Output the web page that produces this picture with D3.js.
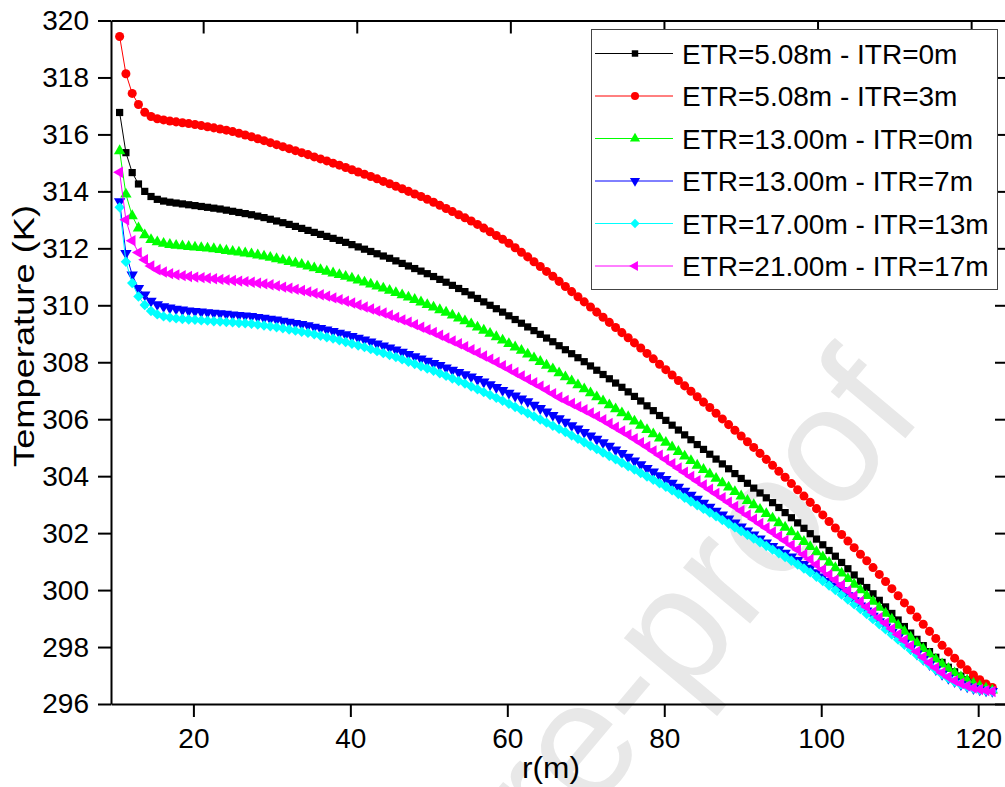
<!DOCTYPE html>
<html lang="en">
<head>
<meta charset="UTF-8" />
<title>Temperature vs r</title>
<style>
  body { margin: 0; background: #fff; }
  text { font-family: "Liberation Sans", Arial, sans-serif; }
</style>
</head>
<body>
<svg id="chart" width="1005" height="787"></svg>
<script src="https://d3js.org/d3.v7.min.js"></script>
<script>
// radial positions (m)
const rValues = [
  10.6, 11.4, 12.2, 13.0, 13.8, 14.6, 15.4, 16.2, 17.0, 17.8,
  18.6, 19.4, 20.2, 21.0, 21.8, 22.6, 23.4, 24.2, 25.0, 25.8,
  26.6, 27.4, 28.2, 29.0, 29.8, 30.6, 31.4, 32.2, 33.0, 33.8,
  34.6, 35.4, 36.2, 37.0, 37.8, 38.6, 39.4, 40.2, 41.0, 41.8,
  42.6, 43.4, 44.2, 45.0, 45.8, 46.6, 47.4, 48.2, 49.0, 49.8,
  50.6, 51.4, 52.2, 53.0, 53.8, 54.6, 55.4, 56.2, 57.0, 57.8,
  58.6, 59.4, 60.2, 61.0, 61.8, 62.6, 63.4, 64.2, 65.0, 65.8,
  66.6, 67.4, 68.2, 69.0, 69.8, 70.6, 71.4, 72.2, 73.0, 73.8,
  74.6, 75.4, 76.2, 77.0, 77.8, 78.6, 79.4, 80.2, 81.0, 81.8,
  82.6, 83.4, 84.2, 85.0, 85.8, 86.6, 87.4, 88.2, 89.0, 89.8,
  90.6, 91.4, 92.2, 93.0, 93.8, 94.6, 95.4, 96.2, 97.0, 97.8,
  98.6, 99.4, 100.2, 101.0, 101.8, 102.6, 103.4, 104.2, 105.0, 105.8,
  106.6, 107.4, 108.2, 109.0, 109.8, 110.6, 111.4, 112.2, 113.0, 113.8,
  114.6, 115.4, 116.2, 117.0, 117.8, 118.6, 119.4, 120.2, 121.0, 121.8
];

// temperatures (K)
const tEtr508Itr0 = [
  316.77, 315.36, 314.66, 314.26, 314.00, 313.82, 313.72, 313.66, 313.62, 313.59,
  313.56, 313.53, 313.50, 313.47, 313.44, 313.41, 313.38, 313.34, 313.30, 313.26,
  313.22, 313.18, 313.13, 313.08, 313.02, 312.96, 312.90, 312.84, 312.77, 312.70,
  312.63, 312.56, 312.49, 312.42, 312.35, 312.28, 312.21, 312.13, 312.05, 311.97,
  311.89, 311.81, 311.73, 311.65, 311.56, 311.47, 311.38, 311.29, 311.20, 311.11,
  311.01, 310.91, 310.81, 310.70, 310.59, 310.48, 310.36, 310.24, 310.12, 310.00,
  309.88, 309.76, 309.63, 309.50, 309.37, 309.24, 309.11, 308.98, 308.85, 308.72,
  308.58, 308.44, 308.30, 308.16, 308.02, 307.87, 307.72, 307.57, 307.42, 307.27,
  307.12, 306.96, 306.80, 306.64, 306.47, 306.30, 306.13, 305.96, 305.79, 305.62,
  305.45, 305.28, 305.11, 304.94, 304.77, 304.60, 304.43, 304.26, 304.09, 303.92,
  303.75, 303.58, 303.41, 303.24, 303.07, 302.90, 302.72, 302.54, 302.36, 302.17,
  301.98, 301.79, 301.59, 301.39, 301.19, 300.97, 300.75, 300.53, 300.31, 300.09,
  299.87, 299.64, 299.41, 299.18, 298.95, 298.72, 298.49, 298.27, 298.05, 297.84,
  297.64, 297.46, 297.29, 297.13, 296.98, 296.85, 296.74, 296.64, 296.55, 296.48
];
const tEtr508Itr3 = [
  319.44, 318.13, 317.44, 317.05, 316.78, 316.63, 316.55, 316.51, 316.47, 316.44,
  316.41, 316.38, 316.35, 316.31, 316.27, 316.23, 316.19, 316.15, 316.10, 316.04,
  315.98, 315.92, 315.85, 315.78, 315.71, 315.64, 315.57, 315.50, 315.43, 315.36,
  315.29, 315.21, 315.14, 315.07, 314.99, 314.92, 314.84, 314.76, 314.68, 314.60,
  314.52, 314.44, 314.35, 314.27, 314.18, 314.09, 314.00, 313.91, 313.82, 313.72,
  313.62, 313.51, 313.40, 313.29, 313.18, 313.07, 312.96, 312.84, 312.71, 312.58,
  312.45, 312.32, 312.18, 312.02, 311.86, 311.70, 311.53, 311.36, 311.19, 311.02,
  310.84, 310.66, 310.48, 310.30, 310.12, 309.94, 309.76, 309.58, 309.40, 309.22,
  309.04, 308.86, 308.68, 308.50, 308.31, 308.12, 307.93, 307.74, 307.55, 307.36,
  307.17, 306.98, 306.79, 306.60, 306.41, 306.21, 306.01, 305.81, 305.61, 305.41,
  305.21, 305.01, 304.80, 304.59, 304.38, 304.17, 303.96, 303.74, 303.52, 303.30,
  303.08, 302.86, 302.64, 302.41, 302.18, 301.95, 301.72, 301.49, 301.26, 301.03,
  300.79, 300.55, 300.30, 300.05, 299.80, 299.55, 299.30, 299.05, 298.80, 298.55,
  298.30, 298.06, 297.83, 297.61, 297.40, 297.20, 297.02, 296.85, 296.70, 296.58
];
const tEtr13Itr0 = [
  315.42, 313.90, 313.14, 312.71, 312.47, 312.30, 312.22, 312.17, 312.13, 312.10,
  312.08, 312.06, 312.04, 312.02, 312.00, 311.98, 311.95, 311.92, 311.89, 311.86,
  311.83, 311.80, 311.76, 311.72, 311.68, 311.63, 311.58, 311.53, 311.48, 311.43,
  311.37, 311.31, 311.25, 311.19, 311.13, 311.07, 311.01, 310.95, 310.88, 310.81,
  310.74, 310.67, 310.60, 310.52, 310.44, 310.36, 310.28, 310.20, 310.11, 310.02,
  309.93, 309.84, 309.75, 309.65, 309.55, 309.45, 309.34, 309.23, 309.12, 309.01,
  308.89, 308.77, 308.65, 308.53, 308.41, 308.28, 308.15, 308.02, 307.89, 307.76,
  307.62, 307.48, 307.34, 307.20, 307.06, 306.92, 306.78, 306.64, 306.50, 306.36,
  306.22, 306.08, 305.93, 305.78, 305.63, 305.48, 305.33, 305.18, 305.02, 304.86,
  304.70, 304.54, 304.38, 304.23, 304.07, 303.92, 303.76, 303.61, 303.45, 303.30,
  303.14, 302.99, 302.83, 302.68, 302.52, 302.36, 302.20, 302.04, 301.87, 301.70,
  301.52, 301.34, 301.16, 300.97, 300.78, 300.59, 300.40, 300.20, 300.00, 299.80,
  299.60, 299.39, 299.18, 298.97, 298.76, 298.55, 298.34, 298.14, 297.94, 297.75,
  297.57, 297.40, 297.24, 297.09, 296.95, 296.83, 296.72, 296.63, 296.55, 296.48
];
const tEtr13Itr7 = [
  313.64, 311.83, 311.07, 310.60, 310.37, 310.15, 310.03, 309.96, 309.91, 309.87,
  309.84, 309.81, 309.79, 309.77, 309.75, 309.73, 309.71, 309.69, 309.67, 309.65,
  309.63, 309.61, 309.58, 309.55, 309.52, 309.49, 309.45, 309.41, 309.37, 309.33,
  309.29, 309.24, 309.19, 309.14, 309.09, 309.03, 308.97, 308.91, 308.85, 308.79,
  308.72, 308.65, 308.58, 308.51, 308.44, 308.36, 308.28, 308.20, 308.12, 308.04,
  307.96, 307.89, 307.81, 307.73, 307.65, 307.57, 307.49, 307.40, 307.31, 307.22,
  307.12, 307.02, 306.92, 306.82, 306.72, 306.62, 306.50, 306.38, 306.26, 306.14,
  306.02, 305.90, 305.78, 305.66, 305.54, 305.42, 305.30, 305.18, 305.06, 304.93,
  304.80, 304.67, 304.54, 304.41, 304.28, 304.15, 304.02, 303.89, 303.76, 303.62,
  303.48, 303.34, 303.20, 303.06, 302.92, 302.78, 302.64, 302.50, 302.36, 302.22,
  302.08, 301.94, 301.80, 301.66, 301.54, 301.42, 301.30, 301.17, 301.05, 300.91,
  300.77, 300.62, 300.47, 300.31, 300.15, 299.98, 299.81, 299.63, 299.45, 299.27,
  299.09, 298.90, 298.71, 298.52, 298.33, 298.14, 297.95, 297.76, 297.57, 297.39,
  297.21, 297.05, 296.91, 296.79, 296.69, 296.61, 296.55, 296.50, 296.47, 296.45
];
const tEtr17Itr13 = [
  313.44, 311.53, 310.78, 310.31, 310.01, 309.80, 309.68, 309.61, 309.57, 309.54,
  309.52, 309.50, 309.49, 309.47, 309.46, 309.44, 309.43, 309.41, 309.40, 309.38,
  309.37, 309.35, 309.32, 309.29, 309.26, 309.23, 309.19, 309.15, 309.11, 309.07,
  309.03, 308.98, 308.93, 308.88, 308.83, 308.77, 308.71, 308.65, 308.59, 308.53,
  308.46, 308.39, 308.32, 308.25, 308.18, 308.10, 308.02, 307.94, 307.86, 307.78,
  307.70, 307.61, 307.52, 307.43, 307.34, 307.25, 307.15, 307.05, 306.95, 306.85,
  306.75, 306.65, 306.54, 306.43, 306.32, 306.21, 306.10, 305.99, 305.88, 305.77,
  305.66, 305.55, 305.43, 305.31, 305.19, 305.07, 304.95, 304.83, 304.71, 304.59,
  304.47, 304.35, 304.23, 304.11, 303.99, 303.87, 303.75, 303.63, 303.50, 303.37,
  303.24, 303.11, 302.98, 302.85, 302.72, 302.59, 302.46, 302.33, 302.20, 302.07,
  301.94, 301.81, 301.68, 301.55, 301.42, 301.29, 301.16, 301.03, 300.90, 300.76,
  300.62, 300.47, 300.32, 300.16, 300.00, 299.84, 299.67, 299.50, 299.33, 299.16,
  298.98, 298.80, 298.62, 298.44, 298.26, 298.08, 297.90, 297.72, 297.54, 297.37,
  297.20, 297.04, 296.90, 296.78, 296.68, 296.60, 296.54, 296.49, 296.46, 296.44
];
const tEtr21Itr17 = [
  314.67, 313.00, 312.27, 311.85, 311.60, 311.38, 311.25, 311.17, 311.11, 311.07,
  311.04, 311.01, 310.99, 310.97, 310.95, 310.93, 310.91, 310.89, 310.87, 310.85,
  310.83, 310.81, 310.78, 310.75, 310.72, 310.68, 310.64, 310.60, 310.56, 310.52,
  310.47, 310.42, 310.37, 310.32, 310.26, 310.20, 310.14, 310.08, 310.01, 309.94,
  309.87, 309.80, 309.73, 309.65, 309.57, 309.49, 309.41, 309.32, 309.23, 309.14,
  309.05, 308.95, 308.85, 308.75, 308.65, 308.55, 308.44, 308.33, 308.22, 308.11,
  308.00, 307.88, 307.76, 307.64, 307.52, 307.40, 307.28, 307.16, 307.03, 306.90,
  306.77, 306.66, 306.55, 306.44, 306.33, 306.22, 306.10, 305.98, 305.85, 305.72,
  305.59, 305.46, 305.32, 305.18, 305.04, 304.89, 304.74, 304.59, 304.44, 304.29,
  304.14, 303.99, 303.84, 303.69, 303.54, 303.39, 303.24, 303.09, 302.94, 302.79,
  302.64, 302.49, 302.34, 302.19, 302.04, 301.89, 301.74, 301.58, 301.42, 301.25,
  301.08, 300.90, 300.72, 300.54, 300.36, 300.17, 299.98, 299.79, 299.60, 299.41,
  299.22, 299.03, 298.84, 298.64, 298.44, 298.24, 298.04, 297.84, 297.64, 297.45,
  297.27, 297.10, 296.95, 296.82, 296.72, 296.63, 296.56, 296.51, 296.47, 296.44
];

const seriesNames = [
  'ETR=5.08m - ITR=0m',
  'ETR=5.08m - ITR=3m',
  'ETR=13.00m - ITR=0m',
  'ETR=13.00m - ITR=7m',
  'ETR=17.00m - ITR=13m',
  'ETR=21.00m - ITR=17m'
];
const xTicks = [20, 40, 60, 80, 100, 120];
const yTicks = [296, 298, 300, 302, 304, 306, 308, 310, 312, 314, 316, 318, 320];

// styling
const colors = ['#000000', '#ff0000', '#00ff00', '#0000ff', '#00ffff', '#ff00ff'];
const shapes = [
  { type: d3.symbolSquare, size: 52, rot: 0 },
  { type: d3.symbolCircle, size: 64, rot: 0 },
  { type: d3.symbolTriangle, size: 56, rot: 0 },
  { type: d3.symbolTriangle, size: 56, rot: 180 },
  { type: d3.symbolSquare, size: 54, rot: 45 },
  { type: d3.symbolTriangle, size: 56, rot: -90 }
];
const allSeries = [tEtr508Itr0, tEtr508Itr3, tEtr13Itr0, tEtr13Itr7, tEtr17Itr13, tEtr21Itr17];

const svg = d3.select('#chart');
const plotLeft = 111, plotRight = 1008, plotTop = 20.5, plotBottom = 704;

const x = d3.scaleLinear().domain([9.5, 123.8]).range([plotLeft, plotRight]);
// the top axis of the original is offset from the bottom one
const xTop = d3.scaleLinear().domain([8, 124.8]).range([plotLeft, plotRight]);
const y = d3.scaleLinear().domain([296, 320]).range([plotBottom, plotTop]);

// watermark
svg.append('text')
  .attr('transform', 'translate(106,1391) rotate(-50)')
  .attr('font-size', 165)
  .attr('fill', '#e8e8e8')
  .text('Journal Pre-proof');

// series
const line = d3.line().x((d) => x(d[0])).y((d) => y(d[1]));
allSeries.forEach((vals, k) => {
  const pts = rValues.map((r, i) => [r, vals[i]]);
  const g = svg.append('g');
  g.append('path')
    .attr('d', line(pts))
    .attr('fill', 'none')
    .attr('stroke', colors[k])
    .attr('stroke-width', 1);
  const sym = d3.symbol().type(shapes[k].type).size(shapes[k].size);
  g.selectAll('path.m')
    .data(pts)
    .join('path')
    .attr('class', 'm')
    .attr('d', sym)
    .attr('transform', (d) => `translate(${x(d[0])},${y(d[1])}) rotate(${shapes[k].rot})`)
    .attr('fill', colors[k]);
});

// axes
function styleAxis(g) {
  g.selectAll('.domain').attr('stroke-width', 2);
  g.selectAll('.tick line').attr('stroke-width', 2);
  g.selectAll('.tick text').attr('font-size', 28).attr('fill', '#000')
    .attr('font-family', '"Liberation Sans", Arial, sans-serif');
}

svg.append('g')
  .attr('transform', `translate(0,${plotBottom})`)
  .call(d3.axisBottom(x).tickValues(xTicks).tickSize(13).tickSizeOuter(0).tickPadding(11))
  .call(styleAxis);

svg.append('g')
  .attr('transform', `translate(0,${plotTop})`)
  .call(d3.axisTop(xTop).tickValues(xTicks).tickSize(-13).tickSizeOuter(0).tickFormat(''))
  .call(styleAxis);

svg.append('g')
  .attr('transform', `translate(${plotLeft},0)`)
  .call(d3.axisLeft(y).tickValues(yTicks).tickSize(13).tickSizeOuter(0).tickPadding(9))
  .call(styleAxis);

svg.append('g')
  .attr('transform', `translate(${plotRight},0)`)
  .call(d3.axisRight(y).tickValues(yTicks).tickSize(-13).tickSizeOuter(0).tickFormat(''))
  .call(styleAxis);

// axis titles
svg.append('text')
  .attr('x', 551).attr('y', 778)
  .attr('text-anchor', 'middle')
  .attr('font-size', 30)
  .attr('textLength', 58)
  .attr('lengthAdjust', 'spacingAndGlyphs')
  .text('r(m)');

svg.append('text')
  .attr('transform', 'translate(34,336) rotate(-90)')
  .attr('text-anchor', 'middle')
  .attr('font-size', 29)
  .attr('textLength', 262)
  .attr('lengthAdjust', 'spacingAndGlyphs')
  .text('Temperature (K)');

// legend
const legend = svg.append('g');
legend.append('rect')
  .attr('x', 591.5).attr('y', 29.5)
  .attr('width', 406).attr('height', 260)
  .attr('fill', '#fff')
  .attr('stroke', '#444')
  .attr('stroke-width', 1);

seriesNames.forEach((name, k) => {
  const cy = 53.5 + k * 42.5;
  legend.append('line')
    .attr('x1', 595).attr('x2', 673)
    .attr('y1', cy).attr('y2', cy)
    .attr('stroke', colors[k]).attr('stroke-width', 1);
  legend.append('path')
    .attr('d', d3.symbol().type(shapes[k].type).size(shapes[k].size * 0.8)())
    .attr('transform', `translate(635,${cy}) rotate(${shapes[k].rot})`)
    .attr('fill', colors[k]);
  legend.append('text')
    .attr('x', 682).attr('y', cy + 10)
    .attr('font-size', 28)
    .text(name);
});
</script>
</body>
</html>
